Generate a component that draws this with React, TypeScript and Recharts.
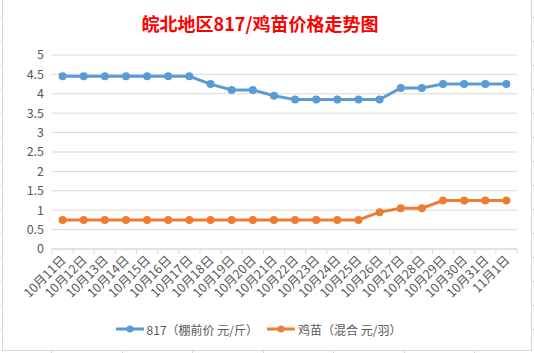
import React from 'react';
import { LineChart, Line, XAxis, YAxis, CartesianGrid, Legend } from 'recharts';

const dates = [
  '10月11日', '10月12日', '10月13日', '10月14日', '10月15日', '10月16日', '10月17日',
  '10月18日', '10月19日', '10月20日', '10月21日', '10月22日', '10月23日', '10月24日',
  '10月25日', '10月26日', '10月27日', '10月28日', '10月29日', '10月30日', '10月31日', '11月1日',
];
const price817 = [
  4.45, 4.45, 4.45, 4.45, 4.45, 4.45, 4.45,
  4.25, 4.1, 4.1, 3.95, 3.85, 3.85, 3.85,
  3.85, 3.85, 4.15, 4.15, 4.25, 4.25, 4.25, 4.25,
];
const chickPrice = [
  0.75, 0.75, 0.75, 0.75, 0.75, 0.75, 0.75,
  0.75, 0.75, 0.75, 0.75, 0.75, 0.75, 0.75,
  0.75, 0.95, 1.05, 1.05, 1.25, 1.25, 1.25, 1.25,
];
const yTicks = [0, 0.5, 1, 1.5, 2, 2.5, 3, 3.5, 4, 4.5, 5];
const seriesNames = ['817（棚前价 元/斤）', '鸡苗（混合 元/羽）'];

const data = dates.map((date, i) => ({ date, p817: price817[i], chick: chickPrice[i] }));

const FONT = '"Noto Sans CJK SC", "Microsoft YaHei", sans-serif';
const TEXT = '#595959';
const GRID = '#d9d9d9';
const BLUE = '#5b9bd5';
const ORANGE = '#ed7d31';

const W = 534;
const H = 353;
const PLOT_LEFT = 52;
const PLOT_RIGHT = 517;
const BAND = (PLOT_RIGHT - PLOT_LEFT) / dates.length;

function DateTick(props: any) {
  const { x, y, payload, index } = props;
  const left = x - BAND / 2;
  const right = x + BAND / 2;
  const axisY = y - 8;
  return (
    <g>
      <line x1={left} x2={left} y1={axisY} y2={axisY + 5} stroke={GRID} />
      {index === dates.length - 1 && (
        <line x1={right} x2={right} y1={axisY} y2={axisY + 5} stroke={GRID} />
      )}
      <text
        x={x + 4}
        y={y + 4}
        transform={`rotate(-45 ${x + 4} ${y + 4})`}
        textAnchor="end"
        fontSize={12.5}
        fill={TEXT}
        fontFamily={FONT}
      >
        {payload.value}
      </text>
    </g>
  );
}

function LegendBox() {
  const colors = [BLUE, ORANGE];
  return (
    <div
      style={{
        display: 'flex',
        justifyContent: 'center',
        alignItems: 'center',
        height: 20,
        paddingRight: 17,
        fontFamily: FONT,
        fontSize: 12,
        color: TEXT,
      }}
    >
      {seriesNames.map((name, i) => (
        <div key={name} style={{ display: 'flex', alignItems: 'center', marginLeft: i ? 9 : 0 }}>
          <svg width={28} height={10} style={{ marginRight: 3 }}>
            <line x1={0} x2={28} y1={5} y2={5} stroke={colors[i]} strokeWidth={3} />
            <circle cx={14} cy={5} r={3.5} fill={colors[i]} />
          </svg>
          <span>{name}</span>
        </div>
      ))}
    </div>
  );
}

export default function App() {
  return (
    <div
      style={{
        position: 'fixed',
        left: 0,
        top: 0,
        width: W,
        height: H,
        background: '#fff',
        backgroundImage:
          'repeating-linear-gradient(90deg, transparent 0 51px, #d9d9d9 51px 52px, transparent 52px 70.5px), repeating-linear-gradient(0deg, transparent 0 23px, #d9d9d9 23px 24px)',
      }}
    >
      <div
        style={{
          position: 'absolute',
          left: 2,
          top: -1,
          width: 528,
          height: 350,
          border: `1px solid ${GRID}`,
          background: '#fff',
        }}
      />
      <div
        style={{
          position: 'absolute',
          left: 0,
          top: 12,
          width: 520,
          textAlign: 'center',
          fontFamily: FONT,
          fontSize: 18,
          fontWeight: 'bold',
          color: '#ff0000',
          lineHeight: '22px',
        }}
      >
        皖北地区817/鸡苗价格走势图
      </div>
      <div style={{ position: 'absolute', left: 0, top: 0 }}>
        <LineChart
          width={W}
          height={H}
          data={data}
          margin={{ top: 55, right: W - PLOT_RIGHT, left: 0, bottom: 14 }}
        >
          <CartesianGrid vertical={false} stroke={GRID} />
          <XAxis
            dataKey="date"
            interval={0}
            padding={{ left: BAND / 2, right: BAND / 2 }}
            axisLine={{ stroke: GRID }}
            tickLine={false}
            tick={<DateTick />}
            height={70}
          />
          <YAxis
            domain={[0, 5]}
            ticks={yTicks}
            interval={0}
            width={PLOT_LEFT}
            axisLine={false}
            tickLine={false}
            tick={{ fontSize: 12.5, fill: TEXT, fontFamily: FONT }}
          />
          <Legend verticalAlign="bottom" content={<LegendBox />} wrapperStyle={{ left: 0, width: W }} />
          <Line
            dataKey="p817"
            name={seriesNames[0]}
            stroke={BLUE}
            strokeWidth={3}
            dot={{ r: 4, fill: BLUE, stroke: BLUE, strokeWidth: 0 }}
            isAnimationActive={false}
          />
          <Line
            dataKey="chick"
            name={seriesNames[1]}
            stroke={ORANGE}
            strokeWidth={3}
            dot={{ r: 4, fill: ORANGE, stroke: ORANGE, strokeWidth: 0 }}
            isAnimationActive={false}
          />
        </LineChart>
      </div>
    </div>
  );
}
